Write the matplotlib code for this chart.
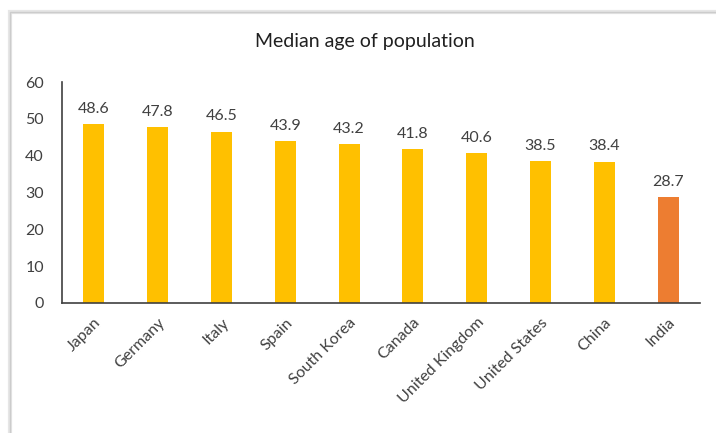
import matplotlib
matplotlib.use("Agg")
import matplotlib.pyplot as plt
from matplotlib.patches import Rectangle

countries = ["Japan", "Germany", "Italy", "Spain", "South Korea", "Canada",
             "United Kingdom", "United States", "China", "India"]
median_age = [48.6, 47.8, 46.5, 43.9, 43.2, 41.8, 40.6, 38.5, 38.4, 28.7]
highlight = "India"

plt.rcParams["font.family"] = ["Lato", "DejaVu Sans"]
text_color = "#404040"

W, H = 716, 433
fig = plt.figure(figsize=(W / 100, H / 100), dpi=100)

# chart frame, running off the right and bottom edges
fig.patches.append(Rectangle((10 / W, -0.1), 1.2, 1 - 12 / H + 0.1,
                             transform=fig.transFigure, fill=False,
                             edgecolor="#e6e6e6", linewidth=3))
fig.patches.append(Rectangle((10 / W, -0.1), 1.2, 1 - 12 / H + 0.1,
                             transform=fig.transFigure, fill=False,
                             edgecolor="#cccccc", linewidth=1))

ax = fig.add_axes([62 / W, 1 - 303 / H, (700 - 62) / W, (303 - 82) / H])

colors = ["#ED7D31" if c == highlight else "#FFC000" for c in countries]
x = range(len(countries))
bars = ax.bar(x, median_age, width=0.33, color=colors)

for b, v in zip(bars, median_age):
    ax.annotate(f"{v:.1f}", (b.get_x() + b.get_width() / 2, v),
                xytext=(0, 6), textcoords="offset points",
                ha="center", va="bottom", fontsize=11.5, color=text_color)

ax.set_xlim(-0.5, len(countries) - 0.5)
ax.set_ylim(0, 60)
ax.set_yticks(range(0, 61, 10))
ax.set_xticks(list(x))
ax.set_xticklabels(countries, rotation=45, ha="right", rotation_mode="anchor")

for s in ["top", "right"]:
    ax.spines[s].set_visible(False)
for s in ["left", "bottom"]:
    ax.spines[s].set_color("#404040")
    ax.spines[s].set_linewidth(1.2)

ax.tick_params(axis="y", length=0, pad=13, labelsize=11.5, labelcolor=text_color)
ax.tick_params(axis="x", length=0, pad=9, labelsize=11.5, labelcolor=text_color)

fig.text(365 / W, 1 - 42 / H, "Median age of population", ha="center",
         va="center", fontsize=14, color="#202020")

fig.savefig("out.png", dpi=100)
